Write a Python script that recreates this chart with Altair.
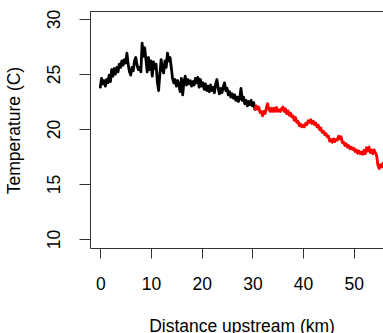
import altair as alt
import pandas as pd

# Distance upstream (km) and temperature (C)
dist_black = [0.0, 0.25, 0.5, 0.75, 1.0, 1.25, 1.5, 1.75, 2.0, 2.25, 2.5, 2.75, 3.0, 3.25, 3.5, 3.75,
              4.0, 4.25, 4.5, 4.75, 5.0, 5.25, 5.5, 5.75, 6.0, 6.25, 6.5, 6.75, 7.0, 7.25, 7.5, 7.75,
              8.0, 8.25, 8.5, 8.75, 9.0, 9.25, 9.5, 9.75, 10.0, 10.25, 10.5, 10.75, 11.0, 11.25, 11.5, 11.75,
              12.0, 12.25, 12.5, 12.75, 13.0, 13.25, 13.5, 13.75, 14.0, 14.25, 14.5, 14.75, 15.0, 15.25, 15.5, 15.75,
              16.0, 16.25, 16.5, 16.75, 17.0, 17.25, 17.5, 17.75, 18.0, 18.25, 18.5, 18.75, 19.0, 19.25, 19.5, 19.75,
              20.0, 20.25, 20.5, 20.75, 21.0, 21.25, 21.5, 21.75, 22.0, 22.25, 22.5, 22.75, 23.0, 23.25, 23.5, 23.75,
              24.0, 24.25, 24.5, 24.75, 25.0, 25.25, 25.5, 25.75, 26.0, 26.25, 26.5, 26.75, 27.0, 27.25, 27.5, 27.75,
              28.0, 28.25, 28.5, 28.75, 29.0, 29.25, 29.5, 29.75, 30.0, 30.25, 30.5]
temp_black = [23.8, 24.6, 24.1, 24.4, 23.9, 24.5, 24.2, 24.9, 24.3, 25.4, 24.8, 25.5, 25.0, 25.6, 25.2, 25.9,
              25.6, 26.2, 25.8, 26.3, 26.0, 26.9, 25.9, 25.2, 24.9, 25.6, 25.3, 26.2, 26.5, 25.8, 25.4, 25.6,
              25.2, 27.8, 26.6, 27.4, 26.3, 25.2, 26.5, 25.4, 26.2, 24.8, 26.1, 25.5, 25.9, 24.3, 23.5, 25.0,
              26.3, 25.4, 25.1, 26.2, 25.6, 26.9, 26.2, 26.5, 25.6, 24.6, 24.2, 24.5, 23.9, 24.4, 24.0, 23.4,
              24.6, 23.1, 24.3, 24.8, 24.0, 24.5, 24.1, 24.4, 23.9, 24.3, 24.0, 24.6, 24.2, 24.7, 23.8, 24.5,
              23.9, 24.2, 23.6, 24.1, 23.5, 23.9, 23.4, 24.0, 23.5, 23.8, 23.3, 24.1, 24.5, 23.7, 23.2, 23.7,
              23.3, 23.8, 24.2, 23.5, 23.7, 23.1, 23.4, 22.9, 23.2, 22.8, 23.1, 22.6, 22.9, 22.5, 22.8, 23.7,
              22.6, 22.9, 22.3, 22.6, 22.1, 22.5, 22.2, 22.6, 22.1, 22.4, 21.8]

dist_red = [30.5, 30.75, 31.0, 31.25, 31.5, 31.75, 32.0, 32.25, 32.5, 32.75, 33.0, 33.25, 33.5, 33.75,
            34.0, 34.25, 34.5, 34.75, 35.0, 35.25, 35.5, 35.75, 36.0, 36.25, 36.5, 36.75, 37.0, 37.25, 37.5, 37.75,
            38.0, 38.25, 38.5, 38.75, 39.0, 39.25, 39.5, 39.75, 40.0, 40.25, 40.5, 40.75, 41.0, 41.25, 41.5, 41.75,
            42.0, 42.25, 42.5, 42.75, 43.0, 43.25, 43.5, 43.75, 44.0, 44.25, 44.5, 44.75, 45.0, 45.25, 45.5, 45.75,
            46.0, 46.25, 46.5, 46.75, 47.0, 47.25, 47.5, 47.75, 48.0, 48.25, 48.5, 48.75, 49.0, 49.25, 49.5, 49.75,
            50.0, 50.25, 50.5, 50.75, 51.0, 51.25, 51.5, 51.75, 52.0, 52.25, 52.5, 52.75, 53.0, 53.25, 53.5, 53.75,
            54.0, 54.25, 54.5, 54.75, 55.0, 55.25, 55.5, 55.75]
temp_red = [21.8, 22.1, 21.8, 22.0, 21.5, 21.6, 21.2, 21.6, 21.4, 21.9, 22.3, 21.8, 21.6, 21.9,
            21.6, 21.9, 21.6, 21.95, 21.6, 21.75, 21.6, 21.85, 22.0, 21.6, 21.85, 21.4, 21.65, 21.25, 21.45, 21.1,
            21.2, 20.8, 21.05, 20.6, 20.7, 20.3, 20.45, 20.2, 20.35, 20.2, 20.5, 20.4, 20.75, 20.6, 20.85, 20.5,
            20.7, 20.4, 20.55, 20.2, 20.35, 19.95, 20.1, 19.7, 19.8, 19.5, 19.6, 19.3, 19.35, 18.9, 19.05, 18.8,
            19.1, 18.85, 19.05, 19.0, 19.35, 19.1, 19.3, 18.75, 18.8, 18.5, 18.65, 18.35, 18.5, 18.2, 18.35, 18.15,
            18.25, 17.95, 18.1, 17.8, 18.0, 17.75, 17.9, 17.7, 18.05, 17.75, 18.3, 18.0, 18.35, 17.85, 18.1, 17.75,
            18.1, 17.85, 17.6, 16.7, 16.4, 16.75, 16.55, 16.9]

x_ticks = [0, 10, 20, 30, 40, 50]
y_ticks = [10, 15, 20, 25, 30]

df = pd.concat([
    pd.DataFrame({"dist": dist_black, "temp": temp_black, "seg": "lower"}),
    pd.DataFrame({"dist": dist_red, "temp": temp_red, "seg": "upper"}),
], ignore_index=True)

W, H = 293, 237
FONT = "Liberation Sans"

x_enc = alt.X("dist:Q", scale=alt.Scale(domain=[-2.03, 55.76], nice=False, zero=False),
              axis=alt.Axis(values=x_ticks, tickSize=10, labelPadding=17, labelBaseline="top",
                            labelFlush=False, labelOverlap=False,
                            title="Distance upstream (km)", titleX=151.5, titleY=83,
                            titleAlign="center", titleBaseline="alphabetic"))
y_enc = alt.Y("temp:Q", scale=alt.Scale(domain=[9.18, 30.73], nice=False, zero=False),
              axis=alt.Axis(values=y_ticks, tickSize=11, labelAngle=270, labelAlign="center",
                            labelBaseline="alphabetic", labelPadding=19.7, labelFlush=False,
                            labelOverlap=False,
                            title="Temperature (C)", titleAngle=270, titleX=-71, titleY=119,
                            titleAlign="center", titleBaseline="alphabetic"))

lines = alt.Chart(df).mark_line(strokeWidth=2.8, strokeJoin="round", strokeCap="round", clip=True).encode(
    x=x_enc, y=y_enc,
    color=alt.Color("seg:N", scale=alt.Scale(domain=["lower", "upper"], range=["#000000", "#ff0000"]),
                    legend=None),
    detail="seg:N",
)

top_border = alt.Chart(pd.DataFrame({"a": [0]})).mark_rule(color="#333333", strokeWidth=1).encode(
    x=alt.value(0), x2=alt.value(W), y=alt.value(0.5)
)

chart = alt.layer(lines, top_border).properties(
    width=W, height=H,
    autosize=alt.AutoSizeParams(type="none"),
    padding={"left": 90, "top": 11, "right": 0, "bottom": 85},
).configure_view(stroke=None).configure_axis(
    grid=False, domainColor="#333333", tickColor="#333333", domainWidth=1, tickWidth=1,
    labelFont=FONT, labelFontSize=17.5, labelColor="#000000",
    titleFont=FONT, titleFontSize=17.5, titleColor="#000000", titleFontWeight="normal",
)

chart.save("out.html", embed_options={"renderer": "svg", "actions": False})
